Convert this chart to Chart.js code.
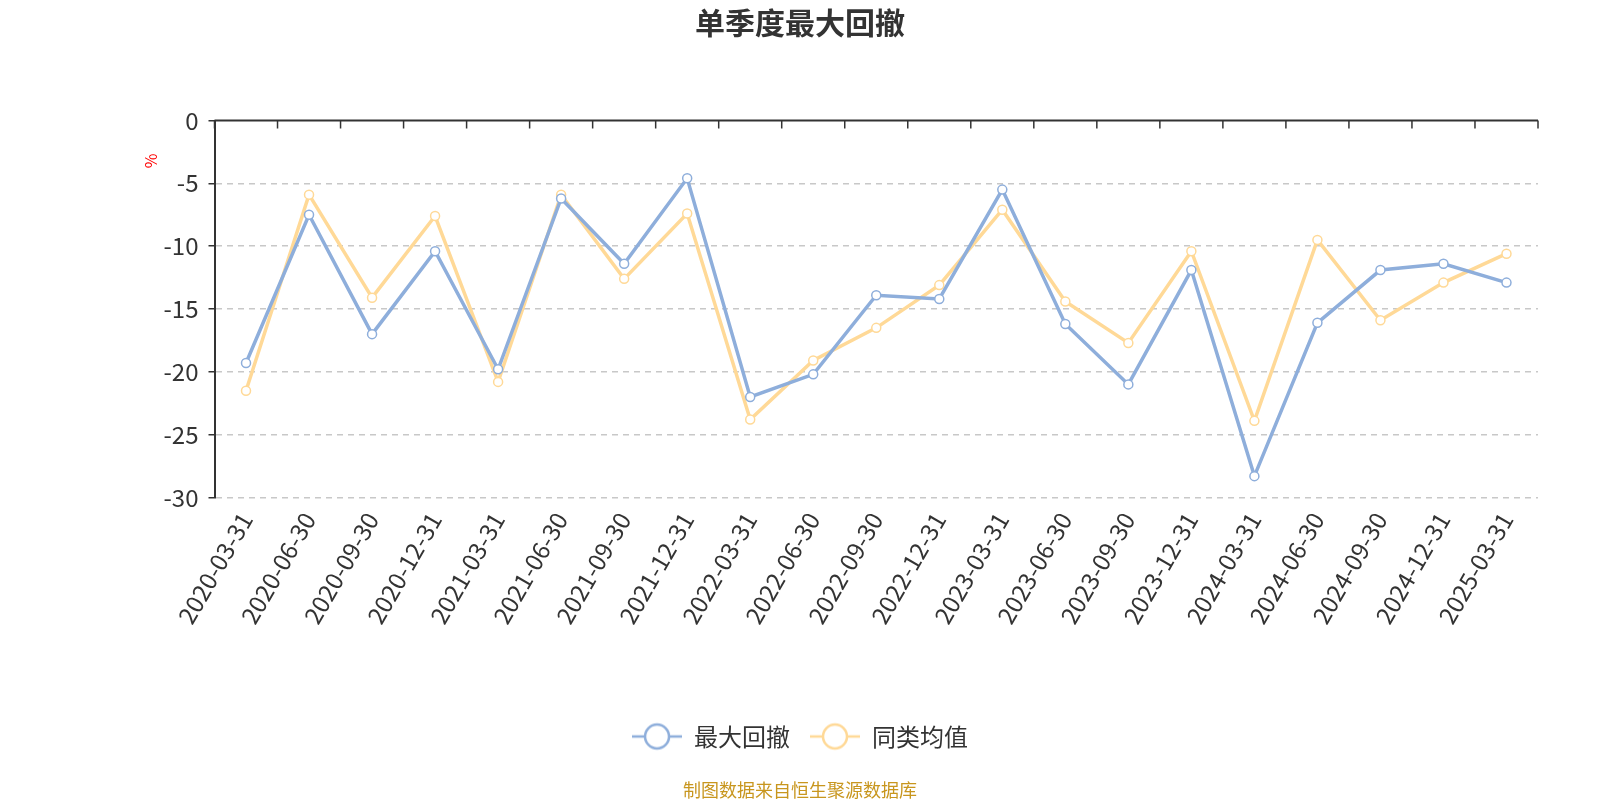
<!DOCTYPE html>
<html>
<head>
<meta charset="utf-8">
<script src="https://cdn.jsdelivr.net/npm/chart.js@4.4.1/dist/chart.umd.min.js"></script>
<style>
html,body{margin:0;padding:0;background:#fff;}
#wrap{width:1600px;height:800px;position:relative;}
</style>
</head>
<body>
<div id="wrap"><canvas id="c" width="1600" height="800"></canvas></div>
<script>
const categories = ["2020-03-31","2020-06-30","2020-09-30","2020-12-31","2021-03-31","2021-06-30","2021-09-30","2021-12-31","2022-03-31","2022-06-30","2022-09-30","2022-12-31","2023-03-31","2023-06-30","2023-09-30","2023-12-31","2024-03-31","2024-06-30","2024-09-30","2024-12-31","2025-03-31"];
const maxDrawdown = [-19.3,-7.5,-17.0,-10.4,-19.8,-6.2,-11.4,-4.6,-22.0,-20.2,-13.9,-14.2,-5.5,-16.2,-21.0,-11.9,-28.3,-16.1,-11.9,-11.4,-12.9];
const peerAverage = [-21.5,-5.9,-14.1,-7.6,-20.8,-5.9,-12.6,-7.4,-23.8,-19.1,-16.5,-13.1,-7.1,-14.4,-17.7,-10.4,-23.9,-9.5,-15.9,-12.9,-10.6];
const seriesNames = ["最大回撤","同类均值"];
const yTicks = [0,-5,-10,-15,-20,-25,-30];
const titleText = "单季度最大回撤";
const unitText = "%";
const sourceText = "制图数据来自恒生聚源数据库";

const BLUE = "#8EAEDB";
const YELLOW = "#FFD997";
const FONT = "'Noto Sans CJK SC','Noto Sans',sans-serif";

function legendIcon(color){
  const cv = document.createElement('canvas');
  cv.width = 50; cv.height = 30;
  const g = cv.getContext('2d');
  g.strokeStyle = color; g.lineWidth = 2.5;
  g.beginPath(); g.moveTo(0,15); g.lineTo(50,15); g.stroke();
  g.beginPath(); g.arc(25,15,12,0,Math.PI*2);
  g.fillStyle = '#fff'; g.fill();
  g.lineWidth = 2.5; g.stroke();
  return cv;
}
const icons = [legendIcon(BLUE), legendIcon(YELLOW)];

const decor = {
  id:'decor',
  afterDraw(chart){
    const ctx = chart.ctx, a = chart.chartArea, x = chart.scales.x, y = chart.scales.y;
    ctx.save();
    const y0 = y.getPixelForValue(0);
    ctx.strokeStyle = '#333'; ctx.lineWidth = 2;
    ctx.beginPath(); ctx.moveTo(a.left, y0); ctx.lineTo(a.right, y0); ctx.stroke();
    const n = categories.length;
    const step = (x.getPixelForValue(1) - x.getPixelForValue(0));
    ctx.lineWidth = 1.5;
    for(let i=0;i<=n;i++){
      const px = x.getPixelForValue(0) - step/2 + i*step;
      ctx.beginPath(); ctx.moveTo(px, y0); ctx.lineTo(px, y0+8); ctx.stroke();
    }
    ctx.fillStyle = '#333'; ctx.font = "bold 30px " + FONT;
    ctx.textAlign = 'center'; ctx.textBaseline = 'middle';
    ctx.fillText(titleText, 800, 23);
    ctx.save();
    ctx.translate(151, 161); ctx.rotate(-Math.PI/2);
    ctx.fillStyle = '#ff0000'; ctx.font = "16px " + FONT;
    ctx.fillText(unitText, 0, 0);
    ctx.restore();
    ctx.fillStyle = '#C8961E'; ctx.font = "18px " + FONT;
    ctx.fillText(sourceText, 800, 790);
    ctx.restore();
  }
};

new Chart(document.getElementById('c'), {
  type:'line',
  data:{
    labels: categories,
    datasets:[
      {label:seriesNames[0], data:maxDrawdown, borderColor:BLUE, backgroundColor:'#fff', borderWidth:3.5, pointRadius:4.5, pointBorderWidth:1.5, pointBackgroundColor:'#fff', pointBorderColor:BLUE, tension:0},
      {label:seriesNames[1], data:peerAverage, borderColor:YELLOW, backgroundColor:'#fff', borderWidth:3.5, pointRadius:4.5, pointBorderWidth:1.5, pointBackgroundColor:'#fff', pointBorderColor:YELLOW, tension:0}
    ]
  },
  options:{
    responsive:false,
    animation:false,
    layout:{padding:{left:62,right:62,top:120.5,bottom:41.5}},
    plugins:{
      title:{display:false},
      tooltip:{enabled:false},
      legend:{
        display:true, position:'bottom',
        labels:{
          usePointStyle:true, pointStyleWidth:50, boxHeight:24,
          color:'#333', font:{size:24, family:FONT}, padding:20,
          generateLabels(chart){
            return chart.data.datasets.map((d,i)=>({text:d.label, pointStyle:icons[i], fillStyle:'#fff', strokeStyle:d.borderColor, lineWidth:0, fontColor:'#333', hidden:false, datasetIndex:i}));
          }
        }
      }
    },
    scales:{
      x:{
        type:'category', offset:true, position:'bottom',
        grid:{display:false},
        border:{display:false},
        ticks:{color:'#333', font:{size:24, family:FONT}, minRotation:60, maxRotation:60, autoSkip:false, padding:2},
        afterFit(s){ s.height = 207; }
      },
      y:{
        min:-30, max:0,
        afterBuildTicks(s){ s.ticks = yTicks.map(v=>({value:v})); },
        grid:{color:(c)=> c.tick && c.tick.value===0 ? 'rgba(0,0,0,0)' : '#c8c8c8', lineWidth:1.5, tickColor:'#333', tickLength:6, drawTicks:true},
        border:{display:true, color:'#333', width:2, dash:[6,5]},
        ticks:{color:'#333', font:{size:24, family:FONT}, padding:10},
        afterFit(s){ s.width = 152.5; }
      }
    }
  },
  plugins:[decor]
});
</script>
</body>
</html>
